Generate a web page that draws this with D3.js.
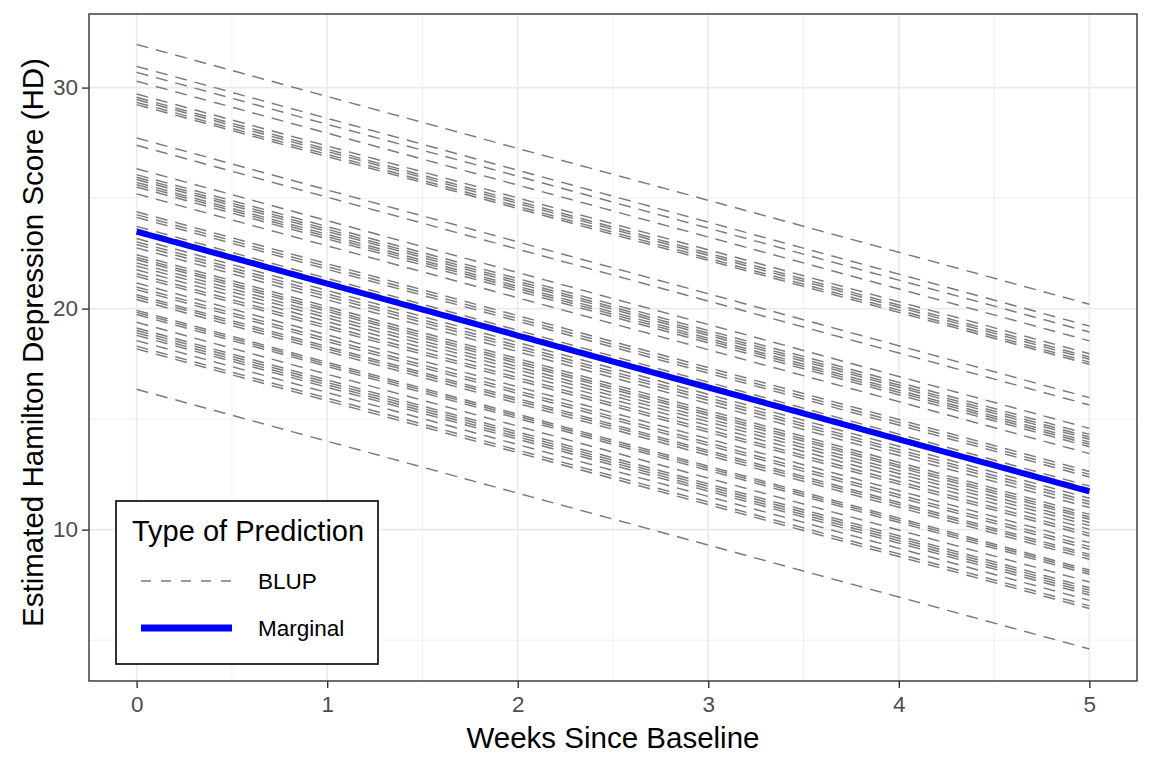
<!DOCTYPE html>
<html><head><meta charset="utf-8">
<script src="https://cdn.jsdelivr.net/npm/d3@7"></script>
<style>body{margin:0;background:#fff}svg{display:block;font-family:"Liberation Sans",Arial,sans-serif}</style>
</head><body>
<svg id="c" width="1152" height="768"></svg>
<script>
// Data
const weeks = [0, 1, 2, 3, 4, 5];
const blupIntercepts = [31.95, 30.96, 30.69, 30.29, 29.71, 29.56, 29.46, 29.33, 29.23, 27.72, 27.39,
  26.33, 26.06, 25.94, 25.84, 25.71, 25.61, 25.50, 25.19,
  24.38, 24.25, 24.13, 23.72, 23.60, 23.40,
  23.17, 23.02, 22.90, 22.75, 22.44, 22.32, 22.22, 22.07, 21.93, 21.76, 21.58, 21.46, 21.16,
  20.98, 20.86, 20.63, 20.53, 20.41, 19.92, 19.83, 19.73, 19.38, 19.12, 19.01, 18.90, 18.79,
  18.55, 18.30, 18.18, 16.35];
const blupSlope = -2.35;
const marginalIntercept = 23.48;
const marginalSlope = -2.35;
const xTicks = [0, 1, 2, 3, 4, 5];
const yTicks = [10, 20, 30];
const legendLabels = ["BLUP", "Marginal"];

const svg = d3.select("#c");
const L = 89, R = 1137, T = 14, B = 681;
const x = d3.scaleLinear().domain([-0.25, 5.25]).range([L, R]);
const y = d3.scaleLinear().domain([3.15, 33.33]).range([B, T]);

// grid
const g = svg.append("g");
const xMinor = [0.5, 1.5, 2.5, 3.5, 4.5];
const yMinor = [5, 15, 25];
g.selectAll(".xm").data(xMinor).enter().append("line")
  .attr("x1", d => x(d)).attr("x2", d => x(d)).attr("y1", T).attr("y2", B)
  .attr("stroke", "#ebebeb").attr("stroke-width", 0.8);
g.selectAll(".ym").data(yMinor).enter().append("line")
  .attr("y1", d => y(d)).attr("y2", d => y(d)).attr("x1", L).attr("x2", R)
  .attr("stroke", "#ebebeb").attr("stroke-width", 0.8);
g.selectAll(".xM").data(xTicks).enter().append("line")
  .attr("x1", d => x(d)).attr("x2", d => x(d)).attr("y1", T).attr("y2", B)
  .attr("stroke", "#ebebeb").attr("stroke-width", 1.6);
g.selectAll(".yM").data(yTicks).enter().append("line")
  .attr("y1", d => y(d)).attr("y2", d => y(d)).attr("x1", L).attr("x2", R)
  .attr("stroke", "#ebebeb").attr("stroke-width", 1.6);

const line = d3.line().x(d => x(d[0])).y(d => y(d[1]));

// BLUP lines
svg.append("g").selectAll("path").data(blupIntercepts).enter().append("path")
  .attr("d", a => line(weeks.map(w => [w, a + blupSlope * w])))
  .attr("fill", "none").attr("stroke", "#7a7a7a").attr("stroke-width", 1.45)
  .attr("stroke-dasharray", "12,8");

// Marginal
svg.append("path")
  .attr("d", line(weeks.map(w => [w, marginalIntercept + marginalSlope * w])))
  .attr("fill", "none").attr("stroke", "#0000ff").attr("stroke-width", 6);

// panel border
svg.append("rect").attr("x", L).attr("y", T).attr("width", R - L).attr("height", B - T)
  .attr("fill", "none").attr("stroke", "#333333").attr("stroke-width", 1.4);

// axes
const xa = svg.append("g").attr("transform", `translate(0,${B})`)
  .call(d3.axisBottom(x).tickValues(xTicks).tickSize(7).tickPadding(8).tickFormat(d3.format("d")));
const ya = svg.append("g").attr("transform", `translate(${L},0)`)
  .call(d3.axisLeft(y).tickValues(yTicks).tickSize(7).tickPadding(4).tickFormat(d3.format("d")));
[xa, ya].forEach(a => {
  a.select(".domain").remove();
  a.selectAll(".tick line").attr("stroke", "#333333").attr("stroke-width", 1.4);
  a.selectAll(".tick text").attr("fill", "#4d4d4d").style("font-size", "22.5px")
    .style("font-family", "'Liberation Sans', Arial, sans-serif");
});

svg.append("text").attr("x", (L + R) / 2).attr("y", 748).attr("text-anchor", "middle")
  .style("font-size", "29.5px").attr("fill", "#000").text("Weeks Since Baseline");
svg.append("text").attr("transform", `translate(43,${(T + B) / 2 - 5}) rotate(-90)`)
  .attr("text-anchor", "middle").style("font-size", "29.5px").attr("fill", "#000")
  .text("Estimated Hamilton Depression Score (HD)");

// legend
const lg = svg.append("g");
lg.append("rect").attr("x", 116).attr("y", 501).attr("width", 262).attr("height", 163)
  .attr("fill", "#fff").attr("stroke", "#000").attr("stroke-width", 1.6);
lg.append("text").attr("x", 132).attr("y", 541).style("font-size", "29px").attr("fill", "#000")
  .text("Type of Prediction");
lg.append("line").attr("x1", 141).attr("x2", 232).attr("y1", 581).attr("y2", 581)
  .attr("stroke", "#7a7a7a").attr("stroke-width", 1.5).attr("stroke-dasharray", "10,10");
lg.append("line").attr("x1", 141).attr("x2", 232).attr("y1", 628).attr("y2", 628)
  .attr("stroke", "#0000ff").attr("stroke-width", 7);
lg.selectAll(".lt").data(legendLabels).enter().append("text")
  .attr("x", 258).attr("y", (d, i) => 589 + i * 47).style("font-size", "22.5px").attr("fill", "#000")
  .text(d => d);
</script>
</body></html>
